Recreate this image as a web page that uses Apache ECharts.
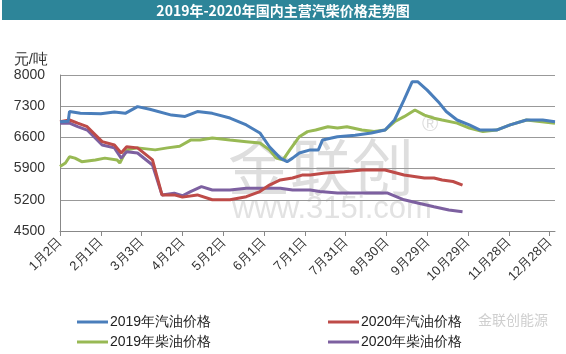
<!DOCTYPE html>
<html>
<head>
<meta charset="utf-8">
<script src="https://cdn.jsdelivr.net/npm/echarts@6/dist/echarts.min.js"></script>
<style>
  html, body { margin: 0; padding: 0; background: #fff; }
  #chart { width: 566px; height: 354px; }
</style>
</head>
<body>
<div id="chart"></div>
<script>
// x = 距1月2日的天数, y = 元/吨
var tickLabels = ['1月2日', '2月1日', '3月3日', '4月2日', '5月2日', '6月1日', '7月1日',
    '7月31日', '8月30日', '9月29日', '10月29日', '11月28日', '12月28日'];

var seriesNames = ['2019年汽油价格', '2020年汽油价格', '2019年柴油价格', '2020年柴油价格'];

var gasoline2019 = [
    [0, 6950], [6, 6960], [7, 7180], [15, 7140], [30, 7130], [40, 7170], [48, 7140],
    [57, 7290], [66, 7230], [82, 7100], [92, 7070], [101, 7180], [112, 7140],
    [125, 7035], [137, 6880], [147, 6700], [154, 6390], [162, 6135], [167, 6055],
    [171, 6135], [176, 6250], [184, 6320], [190, 6320], [193, 6540], [204, 6615],
    [217, 6650], [229, 6700], [239, 6765], [246, 6990], [253, 7440], [259, 7850],
    [263, 7850], [270, 7660], [279, 7370], [284, 7180], [292, 6990], [301, 6880],
    [309, 6765], [321, 6765], [331, 6880], [343, 6990], [355, 6990], [364, 6950]
];

var gasoline2020 = [
    [0, 6950], [7, 6990], [13, 6920], [20, 6840], [31, 6505], [40, 6430], [45, 6250],
    [49, 6390], [57, 6365], [68, 6095], [75, 5310], [84, 5310], [90, 5260],
    [101, 5310], [112, 5200], [125, 5200], [137, 5270], [147, 5385], [154, 5530],
    [162, 5645], [171, 5690], [178, 5755], [184, 5755], [195, 5800], [209, 5830],
    [222, 5870], [239, 5870], [253, 5755], [268, 5690], [275, 5690], [281, 5645],
    [289, 5610], [296, 5530]
];

var diesel2019 = [
    [0, 5945], [4, 6025], [7, 6165], [11, 6135], [16, 6055], [26, 6095], [33, 6135],
    [42, 6095], [44, 6025], [49, 6320], [57, 6365], [70, 6320], [79, 6365],
    [88, 6400], [96, 6540], [103, 6540], [112, 6585], [125, 6540], [137, 6505],
    [147, 6475], [154, 6320], [159, 6135], [164, 6095], [169, 6320], [176, 6615],
    [182, 6730], [188, 6765], [197, 6840], [204, 6810], [211, 6840], [222, 6765],
    [231, 6730], [239, 6765], [246, 6950], [253, 7065], [261, 7215], [268, 7100],
    [275, 7030], [281, 6990], [292, 6920], [301, 6810], [311, 6730], [321, 6765],
    [331, 6880], [343, 6990], [364, 6920]
];

var diesel2020 = [
    [0, 6920], [7, 6920], [13, 6840], [20, 6765], [31, 6430], [40, 6365], [45, 6135],
    [49, 6280], [57, 6250], [68, 5980], [75, 5310], [84, 5350], [90, 5290],
    [96, 5385], [104, 5495], [112, 5420], [125, 5420], [137, 5460], [152, 5460],
    [162, 5460], [171, 5420], [184, 5420], [191, 5385], [204, 5350], [229, 5350],
    [241, 5350], [253, 5200], [263, 5130], [275, 5045], [286, 4970], [296, 4930]
];

var colors = ['#4a7ebb', '#be4b48', '#98b954', '#7d60a0'];

var chart = echarts.init(document.getElementById('chart'));

function makeLine(name, data, color) {
    return {
        name: name,
        type: 'line',
        data: data,
        symbol: 'none',
        lineStyle: {width: 3, color: color},
        itemStyle: {color: color},
        z: 3
    };
}

function makeLegend(name, left, top) {
    return {
        data: [name],
        left: left,
        top: top,
        icon: 'rect',
        itemWidth: 31,
        itemHeight: 3,
        itemGap: 2,
        textStyle: {fontSize: 14, color: '#222', padding: [0, 0, 0, -3]}
    };
}

var option = {
    animation: false,
    backgroundColor: '#fff',
    color: colors,
    title: {
        text: '2019年-2020年国内主营汽柴价格走势图',
        left: 'center',
        top: 0,
        padding: [3, 0],
        textStyle: {color: '#fff', fontSize: 14, lineHeight: 15, fontWeight: 'bold', fontFamily: 'Noto Sans CJK SC'}
    },
    graphic: [
        {type: 'rect', left: 2, top: 0, z: -10, shape: {width: 564, height: 20}, style: {fill: '#2d8599'}},
        {type: 'text', left: 228, top: 136, z: -5, style: {text: '金联创', fontSize: 62, fill: '#dedede', fontFamily: 'Noto Sans CJK SC'}},
        {type: 'text', left: 422, top: 114, z: -5, style: {text: '®', fontSize: 22, fill: '#dedede'}},
        {type: 'text', left: 232, top: 194, z: -5, style: {text: 'www.315i.com', fontSize: 31, fill: '#e2e2e2', fontFamily: 'Liberation Sans'}},
        {type: 'text', left: 478, top: 313, z: -5, style: {text: '金联创能源', fontSize: 14, fill: '#cfcfcf', fontFamily: 'Noto Sans CJK SC'}}
    ],
    legend: [
        makeLegend(seriesNames[0], 72, 310),
        makeLegend(seriesNames[1], 323, 310),
        makeLegend(seriesNames[2], 72, 330),
        makeLegend(seriesNames[3], 323, 330)
    ],
    grid: {left: 60, right: 11, top: 75, bottom: 123},
    xAxis: {
        type: 'value',
        min: 0,
        max: 364,
        interval: 30,
        axisLine: {show: true, lineStyle: {color: '#888', width: 1}},
        axisTick: {show: true, length: 5, lineStyle: {color: '#888'}},
        splitLine: {show: false},
        axisLabel: {
            rotate: 45,
            fontSize: 13,
            color: '#333',
            margin: 9,
            showMaxLabel: false,
            formatter: function (v) {
                var i = Math.round(v / 30);
                return tickLabels[i] || '';
            }
        }
    },
    yAxis: {
        type: 'value',
        min: 4500,
        max: 8000,
        interval: 700,
        name: '元/吨',
        nameGap: 8,
        nameTextStyle: {fontSize: 15, color: '#333', align: 'right', padding: [0, 12, 0, 0]},
        axisLine: {show: true, lineStyle: {color: '#888', width: 1}},
        axisTick: {show: false},
        splitLine: {show: true, lineStyle: {color: '#999', width: 1}},
        axisLabel: {
            fontSize: 14,
            color: '#333',
            margin: 15,
            formatter: function (v) { return String(v); }
        }
    },
    series: [
        makeLine(seriesNames[2], diesel2019, colors[2]),
        makeLine(seriesNames[3], diesel2020, colors[3]),
        makeLine(seriesNames[1], gasoline2020, colors[1]),
        makeLine(seriesNames[0], gasoline2019, colors[0])
    ]
};

chart.setOption(option);
</script>
</body>
</html>
